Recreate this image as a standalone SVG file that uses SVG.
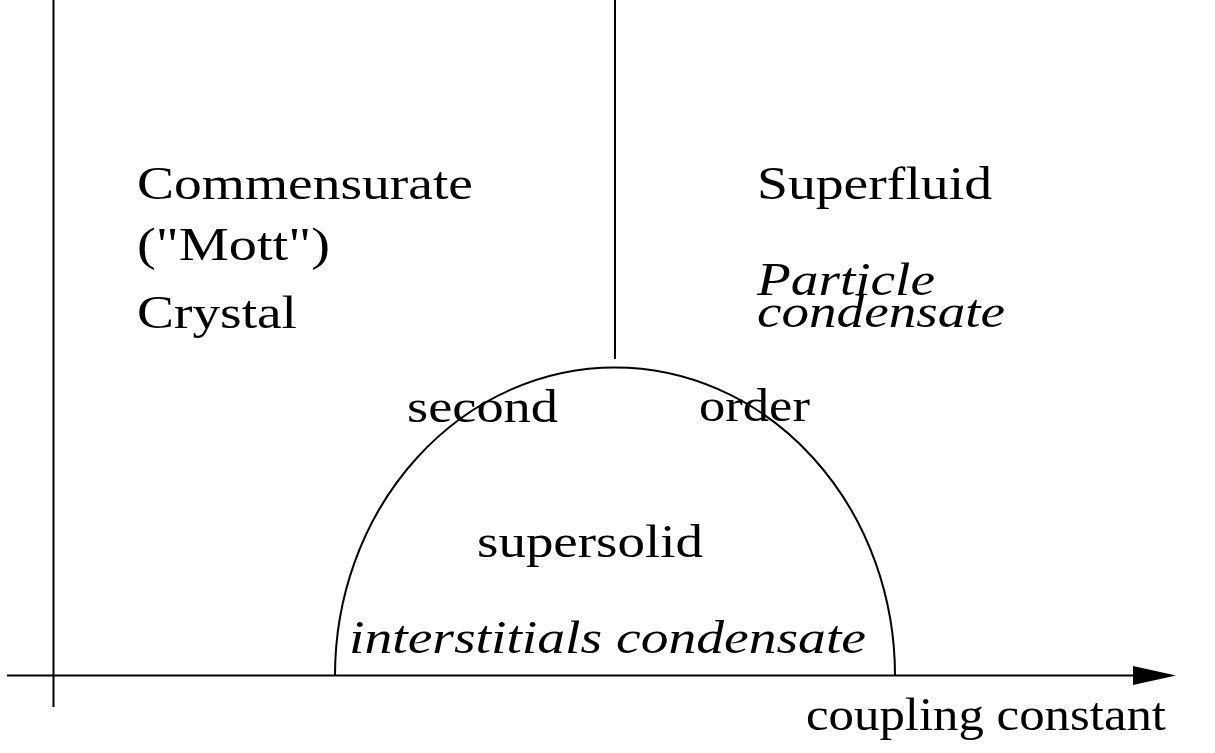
<svg xmlns="http://www.w3.org/2000/svg" width="1215" height="753" viewBox="0 0 1215 753">
<style>
.ln{stroke:#000;stroke-width:2;fill:none}
.t{font-family:"Liberation Serif","Times New Roman",serif;font-size:47px;fill:#000}
.i{font-style:italic}
</style>
<rect width="1215" height="753" fill="#fff"/>
<g id="connectors">
<line class="ln" x1="53.5" y1="0" x2="53.5" y2="707"/>
<line class="ln" x1="7" y1="675.5" x2="1136" y2="675.5"/>
<polygon points="1133,666 1176,675.5 1133,685" fill="#000"/>
<line class="ln" x1="615" y1="0" x2="615" y2="359"/>
<path id="boundary" class="ln" d="M335 675.5 A280 308 0 0 1 895 675.5"/>
</g>
<g id="mott">
<text class="t" x="137" y="199" textLength="336" lengthAdjust="spacingAndGlyphs">Commensurate</text>
<text class="t" x="137" y="260" textLength="193" lengthAdjust="spacingAndGlyphs">("Mott")</text>
<text class="t" x="137" y="328" textLength="160" lengthAdjust="spacingAndGlyphs">Crystal</text>
</g>
<g id="superfluid">
<text class="t" x="757" y="199" textLength="235" lengthAdjust="spacingAndGlyphs">Superfluid</text>
<text class="t i" x="757" y="295" textLength="178" lengthAdjust="spacingAndGlyphs">Particle</text>
<text class="t i" x="757" y="327" textLength="248" lengthAdjust="spacingAndGlyphs">condensate</text>
</g>
<g id="transition">
<text class="t" x="407" y="422" textLength="151" lengthAdjust="spacingAndGlyphs">second</text>
<text class="t" x="699" y="421" textLength="111" lengthAdjust="spacingAndGlyphs">order</text>
</g>
<g id="supersolid">
<text class="t" x="477" y="557" textLength="226" lengthAdjust="spacingAndGlyphs">supersolid</text>
<text class="t i" x="349" y="653" textLength="517" lengthAdjust="spacingAndGlyphs">interstitials condensate</text>
</g>
<g id="axis-label">
<text class="t" x="806" y="730" textLength="360" lengthAdjust="spacingAndGlyphs">coupling constant</text>
</g>
</svg>
